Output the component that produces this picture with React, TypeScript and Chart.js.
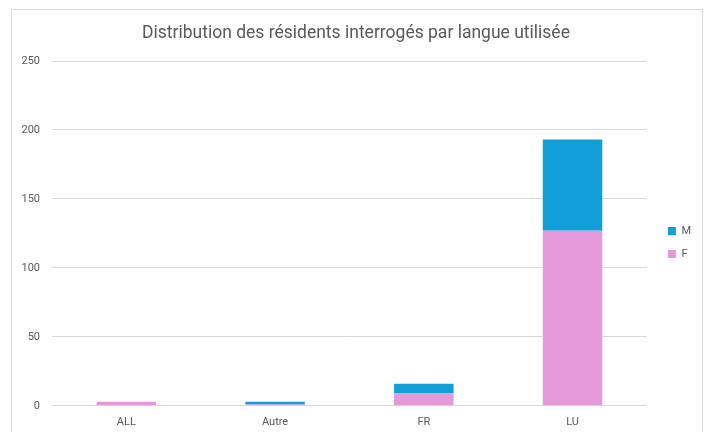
import React, { useEffect, useRef } from "react";
import { Chart, registerables } from "chart.js";

Chart.register(...registerables);

const categories = ["ALL", "Autre", "FR", "LU"];
const valuesF = [3, 1, 9, 127];
const valuesM = [0, 2, 7, 66];
const yTicks = [0, 50, 100, 150, 200, 250];
const titleText = "Distribution des résidents interrogés par langue utilisée";

const TEXT = "#595959";
const GRID = "#d9d9d9";
const FONT = "Roboto";

const legendShift = {
  id: "legendShift",
  afterLayout(chart: any) {
    const lg = chart.legend;
    if (!lg) return;
    const dx = 9;
    const dy = 18;
    lg.left += dx;
    lg.right += dx;
    lg.top += dy;
    lg.bottom += dy;
  },
};

export default function App() {
  const ref = useRef<HTMLCanvasElement>(null);
  useEffect(() => {
    if (!ref.current) return;
    const chart = new Chart(ref.current, {
      type: "bar",
      data: {
        labels: categories,
        datasets: [
          { label: "F", data: valuesF, backgroundColor: "#e49ad9", borderWidth: 0 },
          { label: "M", data: valuesM, backgroundColor: "#129fd7", borderWidth: 0 },
        ],
      },
      plugins: [legendShift],
      options: {
        responsive: false,
        animation: false,
        layout: { padding: { left: 8, right: 10, top: 0, bottom: 14 } },
        datasets: { bar: { categoryPercentage: 0.8, barPercentage: 0.5 } },
        plugins: {
          title: {
            display: true,
            text: titleText,
            color: TEXT,
            font: { family: FONT, size: 17.5, weight: "normal" },
            padding: { top: 13, bottom: 17 },
          },
          legend: {
            position: "right",
            reverse: true,
            labels: {
              color: TEXT,
              font: { family: FONT, size: 11 },
              boxWidth: 8,
              boxHeight: 8,
              padding: 12,
            },
          },
          tooltip: { enabled: false },
        },
        scales: {
          x: {
            stacked: true,
            grid: { display: false, drawTicks: false },
            border: { display: true, color: GRID, width: 1 },
            ticks: { color: TEXT, font: { family: FONT, size: 11 }, padding: 10 },
          },
          y: {
            stacked: true,
            min: 0,
            max: 250,
            afterBuildTicks: (axis: any) => {
              axis.ticks = yTicks.map((v) => ({ value: v }));
            },
            afterFit: (axis: any) => {
              axis.width = 32;
            },
            grid: { color: GRID, drawTicks: false },
            border: { display: false },
            ticks: { color: TEXT, font: { family: FONT, size: 11 }, padding: 12 },
          },
        },
      },
    });
    return () => chart.destroy();
  }, []);
  return (
    <div
      style={{
        position: "absolute",
        left: 11,
        top: 9,
        width: 692,
        height: 445,
        border: "1px solid #d9d9d9",
        boxSizing: "border-box",
        background: "#fff",
      }}
    >
      <canvas ref={ref} width={690} height={443} style={{ display: "block" }} />
    </div>
  );
}
